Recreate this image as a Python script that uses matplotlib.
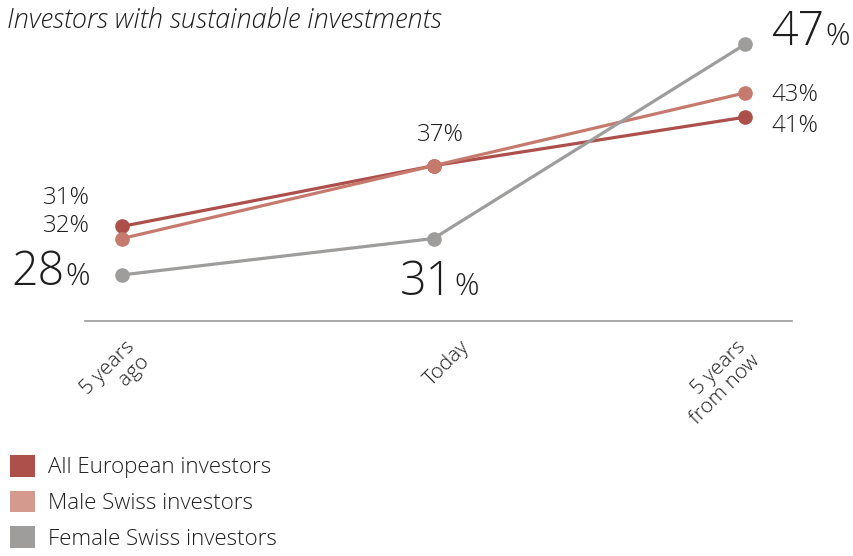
import matplotlib
matplotlib.use("Agg")
import matplotlib.pyplot as plt
from matplotlib.patches import Patch

plt.rcParams['font.family'] = ['Open Sans', 'DejaVu Sans']
plt.rcParams['font.weight'] = 'light'

# ---- data ----
categories = ["5 years\nago", "Today", "5 years\nfrom now"]
series_names = ["All European investors", "Male Swiss investors", "Female Swiss investors"]
all_european = [32, 37, 41]
male_swiss = [31, 37, 43]
female_swiss = [28, 31, 47]
title = "Investors with sustainable investments"

# ---- style ----
c_red = "#AD4F4B"
c_sal_line = "#C67A6D"
c_sal_leg = "#D49A8D"
c_grey = "#9E9D9C"
txt = "#1E1E1E"
PX = 0.72  # points per pixel at dpi 100
FS_SMALL = 17.3
FS_BIG = 33.5
FS_PCT = 22
cat_label_dx = [31, 40, 19]  # pixel offsets of category labels (style)

fig = plt.figure(figsize=(8.54, 5.56), dpi=100)
ax = fig.add_axes([85 / 854, (556 - 321) / 556, 707 / 854, 321 / 556])
x = list(range(len(categories)))

for vals, col in [(all_european, c_red), (male_swiss, c_sal_line), (female_swiss, c_grey)]:
    ax.plot(x, vals, color=col, lw=2.3, marker='o', ms=9.5, solid_capstyle='round', clip_on=False)

ax.set_xlim(-0.119, 2.151)
ax.set_ylim(24.2, 50.66)
for s in ['left', 'right', 'top']:
    ax.spines[s].set_visible(False)
ax.spines['bottom'].set_color('#9a9a9a')
ax.spines['bottom'].set_linewidth(1.2)
ax.set_xticks([])
ax.set_yticks([])

# category labels
for i, cat in enumerate(categories):
    ax.annotate(cat, xy=(i, 0), xycoords=('data', 'axes fraction'),
                xytext=(cat_label_dx[i] * PX, -16 * PX), textcoords='offset points',
                rotation=45, ha='right', va='top', multialignment='right',
                linespacing=1.02, fontsize=15, color=txt)


def small(xi, v, s, dx, dy, ha):
    ax.annotate(s, xy=(xi, v), xytext=(dx * PX, -dy * PX), textcoords='offset points',
                ha=ha, va='center', fontsize=FS_SMALL, color=txt)


def big(xi, v, num, dx, dy, mode):
    """mode 'pct_right': % right edge at dx; 'num_right': digits right edge at dx;
    'num_left': digits left edge at dx."""
    if mode == 'pct_right':
        pct = ax.annotate('%', xy=(xi, v), xytext=(dx * PX, -dy * PX), textcoords='offset points',
                          ha='right', va='baseline', fontsize=FS_PCT, color=txt)
        ax.annotate(num, xy=(0, v), xycoords=(pct, 'data'), xytext=(-1, -dy * PX),
                    textcoords='offset points', ha='right', va='baseline', fontsize=FS_BIG, color=txt)
    else:
        ha = 'right' if mode == 'num_right' else 'left'
        n = ax.annotate(num, xy=(xi, v), xytext=(dx * PX, -dy * PX), textcoords='offset points',
                        ha=ha, va='baseline', fontsize=FS_BIG, color=txt)
        ax.annotate('%', xy=(1, v), xycoords=(n, 'data'), xytext=(1, -dy * PX),
                    textcoords='offset points', ha='left', va='baseline', fontsize=FS_PCT, color=txt)


# start labels
small(0, all_european[0], f"{all_european[0]}%", -32, 0, 'right')
small(0, male_swiss[0], f"{male_swiss[0]}%", -32, -41, 'right')
big(0, female_swiss[0], f"{female_swiss[0]}", -32, 10, 'pct_right')
# today labels
small(1, male_swiss[1], f"{male_swiss[1]}%", 7, -31, 'center')
big(1, female_swiss[1], f"{female_swiss[1]}", 19, 56, 'num_right')
# end labels
small(2, male_swiss[2], f"{male_swiss[2]}%", 26, 2.5, 'left')
small(2, all_european[2], f"{all_european[2]}%", 26, 8.5, 'left')
big(2, female_swiss[2], f"{female_swiss[2]}", 26, 1, 'num_left')

fig.text(7 / 854, 1 - 20 / 556, title, fontsize=19.5, style='italic', color=txt,
         ha='left', va='center')

handles = [Patch(facecolor=c, edgecolor='none') for c in (c_red, c_sal_leg, c_grey)]
fig.legend(handles, series_names, loc='upper left', bbox_to_anchor=(10 / 854, 1 - 455 / 556),
           frameon=False, fontsize=16, handlelength=1.13, handleheight=1.13,
           handletextpad=0.58, labelspacing=0.55, borderpad=0, borderaxespad=0,
           labelcolor=txt)

fig.savefig("out.png", dpi=100)
